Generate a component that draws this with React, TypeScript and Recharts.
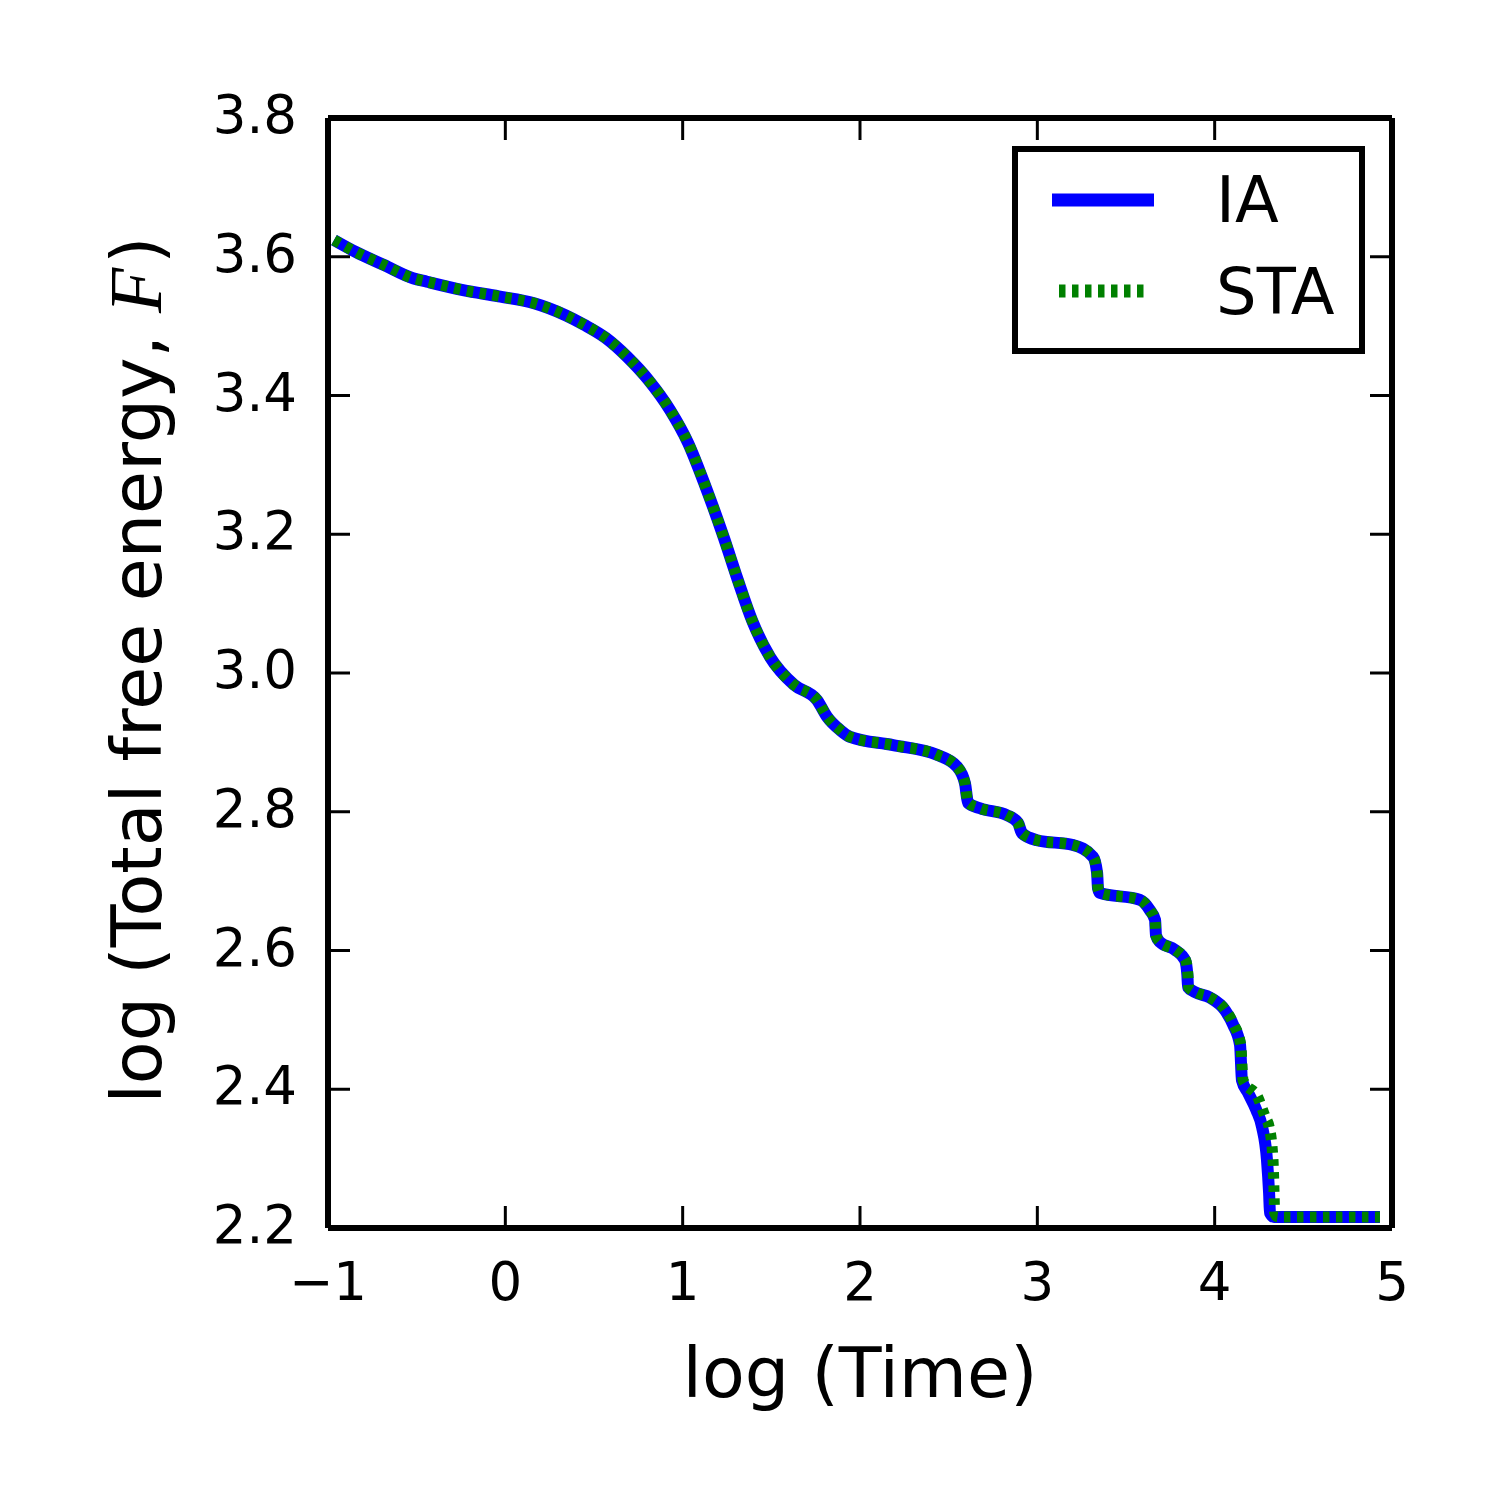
import React from "react";
import { LineChart, Line, XAxis, YAxis, Legend } from "recharts";

// log(Time) and log(Total free energy)
const timeIA = [
  -0.966, -0.844, -0.684, -0.521, -0.442, -0.239, -0.038, 0.162, 0.244, 0.444, 0.566, 0.686, 0.808,
  0.929, 1.03, 1.13, 1.231, 1.311, 1.391, 1.493, 1.628, 1.758, 1.814, 1.887, 1.944, 2.186, 2.434,
  2.547, 2.592, 2.609, 2.677, 2.829, 2.891, 2.914, 2.998, 3.201, 3.314, 3.337, 3.342, 3.353, 3.579,
  3.635, 3.664, 3.669, 3.692, 3.776, 3.833, 3.846, 3.85, 3.889, 3.974, 4.058, 4.104, 4.143, 4.154,
  4.188, 4.235, 4.267, 4.295, 4.307, 4.312, 4.335, 4.932,
];
const energyIA = [
  3.624, 3.607, 3.588, 3.569, 3.564, 3.552, 3.543, 3.533, 3.526, 3.502, 3.483, 3.456, 3.422,
  3.379, 3.332, 3.268, 3.196, 3.134, 3.076, 3.023, 2.983, 2.961, 2.937, 2.918, 2.908, 2.896, 2.882,
  2.865, 2.841, 2.813, 2.805, 2.795, 2.784, 2.769, 2.759, 2.752, 2.735, 2.712, 2.69, 2.683, 2.673,
  2.658, 2.644, 2.622, 2.612, 2.601, 2.586, 2.565, 2.547, 2.54, 2.532, 2.514, 2.493, 2.464, 2.413,
  2.395, 2.37, 2.346, 2.298, 2.25, 2.222, 2.216, 2.216,
];
const timeSTA = [
  -0.966, -0.844, -0.684, -0.521, -0.442, -0.239, -0.038, 0.162, 0.244, 0.444, 0.566, 0.686, 0.808,
  0.929, 1.03, 1.13, 1.231, 1.311, 1.391, 1.493, 1.628, 1.758, 1.814, 1.887, 1.944, 2.186, 2.434,
  2.547, 2.592, 2.609, 2.677, 2.829, 2.891, 2.914, 2.998, 3.201, 3.314, 3.337, 3.342, 3.353, 3.579,
  3.635, 3.664, 3.669, 3.692, 3.776, 3.836, 3.849, 3.853, 3.892, 3.977, 4.061, 4.108, 4.147, 4.16,
  4.244, 4.285, 4.307, 4.329, 4.335, 4.338, 4.355, 4.932,
];
const energySTA = [
  3.624, 3.607, 3.588, 3.569, 3.564, 3.552, 3.543, 3.533, 3.526, 3.502, 3.483, 3.456, 3.422,
  3.379, 3.332, 3.268, 3.196, 3.134, 3.076, 3.023, 2.983, 2.961, 2.937, 2.918, 2.908, 2.896, 2.882,
  2.865, 2.841, 2.813, 2.805, 2.795, 2.784, 2.769, 2.759, 2.752, 2.735, 2.712, 2.69, 2.683, 2.673,
  2.658, 2.644, 2.622, 2.612, 2.601, 2.586, 2.565, 2.547, 2.54, 2.532, 2.514, 2.493, 2.464, 2.413,
  2.388, 2.36, 2.346, 2.298, 2.25, 2.222, 2.216, 2.216,
];
const xTicks = [-1, 0, 1, 2, 3, 4, 5];
const yTicks = [2.2, 2.4, 2.6, 2.8, 3.0, 3.2, 3.4, 3.6, 3.8];

const iaData = timeIA.map((t, i) => ({ t, F: energyIA[i] }));
const staData = timeSTA.map((t, i) => ({ t, F: energySTA[i] }));

const FONT = "DejaVu Sans";
const TICK_FS = 53;
const fmtX = (v: number) => (v < 0 ? "\u2212" + Math.abs(v) : String(v));
const fmtY = (v: number) => v.toFixed(1);

const XTick = (props: any) => {
  const { x, y, payload } = props;
  return (
    <text x={x} y={y + 94} textAnchor="middle" fontFamily={FONT} fontSize={TICK_FS} fill="#000">
      {fmtX(payload.value)}
    </text>
  );
};

const YTick = (props: any) => {
  const { x, y, payload } = props;
  return (
    <text x={x - 53} y={y + 15} textAnchor="end" fontFamily={FONT} fontSize={TICK_FS} fill="#000">
      {fmtY(payload.value)}
    </text>
  );
};

const XLabel = (props: any) => {
  const vb = props.viewBox || {};
  return (
    <text x={vb.x + vb.width / 2} y={vb.y + 169} textAnchor="middle" fontFamily={FONT} fontSize={70} fill="#000">
      log (Time)
    </text>
  );
};

const YLabel = (props: any) => {
  const vb = props.viewBox || {};
  const cx = vb.x + 161;
  const cy = vb.y + vb.height / 2 - 3;
  return (
    <text x={cx} y={cy} transform={`rotate(-90, ${cx}, ${cy})`} textAnchor="middle" fontFamily={FONT} fontSize={70} fill="#000">
      log (Total free energy,{" "}
      <tspan fontFamily="Liberation Serif" fontStyle="italic" fontSize={74}>F</tspan>
      <tspan dx={4}>)</tspan>
    </text>
  );
};

const LegendBox = (props: any) => {
  const payload = props.payload || [];
  const rows = [
    { y: 48, x1: 34, x2: 136, ty: 70 },
    { y: 139, x1: 41, x2: 129, ty: 162 },
  ];
  return (
    <div style={{ width: 353, height: 208, border: "6px solid #000", boxSizing: "border-box", background: "#fff" }}>
      <svg width={341} height={196} style={{ display: "block" }}>
        {payload.map((entry: any, i: number) => {
          const r = rows[i] || rows[0];
          const dash = entry.payload && entry.payload.strokeDasharray;
          return (
            <g key={i}>
              <line x1={r.x1} x2={r.x2} y1={r.y} y2={r.y} stroke={entry.color} strokeWidth={13} strokeDasharray={dash} />
              <text x={198} y={r.ty} fontFamily={FONT} fontSize={64} fill="#000">
                {entry.value}
              </text>
            </g>
          );
        })}
      </svg>
    </div>
  );
};

const axisLineStyle = { stroke: "#000", strokeWidth: 6 };
const tickLineStyle = { stroke: "#000", strokeWidth: 3 };

export default function App() {
  return (
    <div style={{ position: "absolute", left: 0, top: 0, width: 1500, height: 1500, background: "#fff" }}>
      <LineChart width={1500} height={1500} margin={{ top: 117, right: 107, bottom: 0, left: 0 }}>
        <XAxis
          xAxisId="b"
          type="number"
          dataKey="t"
          domain={[-1, 5]}
          ticks={xTicks}
          interval={0}
          allowDataOverflow
          height={272}
          tickSize={-22}
          tickMargin={0}
          tick={XTick}
          axisLine={axisLineStyle}
          tickLine={tickLineStyle}
          label={{ content: XLabel }}
        />
        <XAxis
          xAxisId="t"
          orientation="top"
          type="number"
          dataKey="t"
          domain={[-1, 5]}
          ticks={xTicks}
          interval={0}
          allowDataOverflow
          height={1}
          tickSize={-22}
          tick={() => null}
          axisLine={axisLineStyle}
          tickLine={tickLineStyle}
        />
        <YAxis
          yAxisId="l"
          type="number"
          domain={[2.2, 3.8]}
          ticks={yTicks}
          interval={0}
          allowDataOverflow
          width={328}
          tickSize={-22}
          tickMargin={0}
          tick={YTick}
          axisLine={axisLineStyle}
          tickLine={tickLineStyle}
          label={{ content: YLabel }}
        />
        <YAxis
          yAxisId="r"
          orientation="right"
          type="number"
          domain={[2.2, 3.8]}
          ticks={yTicks}
          interval={0}
          allowDataOverflow
          width={1}
          tickSize={-22}
          tick={() => null}
          axisLine={axisLineStyle}
          tickLine={tickLineStyle}
        />
        <Line
          xAxisId="b"
          yAxisId="l"
          data={iaData}
          dataKey="F"
          name="IA"
          type="monotone"
          stroke="#0000ff"
          strokeWidth={12}
          strokeLinecap="butt"
          strokeLinejoin="round"
          dot={false}
          activeDot={false}
          isAnimationActive={false}
        />
        <Line
          xAxisId="b"
          yAxisId="l"
          data={staData}
          dataKey="F"
          name="STA"
          type="monotone"
          stroke="#008000"
          strokeWidth={11}
          strokeDasharray="6.5 6.5"
          strokeLinecap="butt"
          strokeLinejoin="round"
          dot={false}
          activeDot={false}
          isAnimationActive={false}
        />
        <Legend
          layout="vertical"
          align="center"
          verticalAlign="middle"
          content={LegendBox}
          wrapperStyle={{ position: "absolute", left: 1012, top: 146, width: 353, height: 208 }}
        />
      </LineChart>
    </div>
  );
}
